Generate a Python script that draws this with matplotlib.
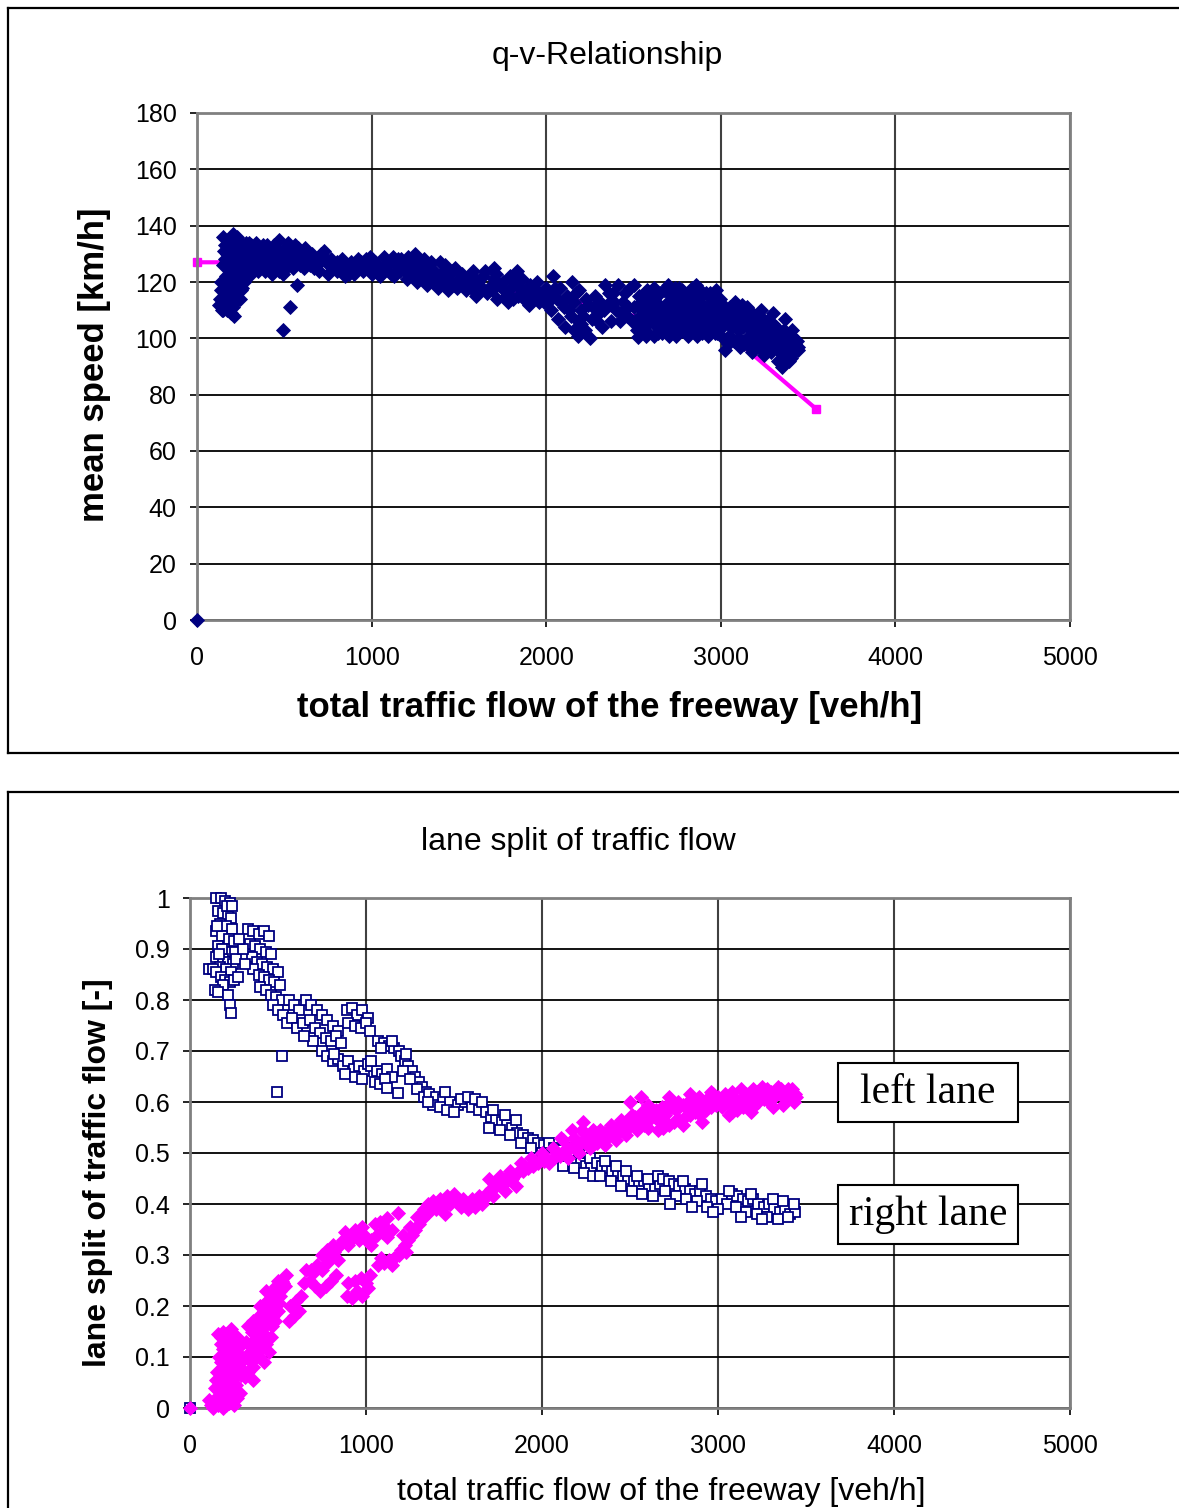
import matplotlib.pyplot as plt
from matplotlib.lines import Line2D
from matplotlib.patches import Rectangle

plt.rcParams['font.family'] = ['Liberation Sans', 'DejaVu Sans']

W, H = 1179, 1508

# ---------- q-v relationship (measured points) ----------
qv_points = [
    (0, 0),
    # low flow cluster
    (150, 136), (160, 133), (170, 130), (180, 128), (190, 126), (200, 124), (210, 122), (150, 126),
    (165, 122), (175, 119), (185, 116), (195, 113), (205, 111), (140, 117), (130, 114), (125, 112),
    (145, 110), (170, 110), (190, 112), (215, 115), (230, 118), (240, 121), (250, 124), (260, 127),
    (220, 125), (230, 128), (240, 131), (250, 134), (260, 132), (270, 130), (280, 127), (290, 124),
    (300, 122), (270, 120), (250, 117), (235, 114), (220, 120), (200, 129), (185, 132), (175, 135),
    (160, 128), (210, 133), (225, 134), (200, 116), (180, 122), (155, 113), (140, 120), (280, 134),
    (300, 129), (310, 133),
    (155, 131), (165, 127), (175, 125), (185, 121), (195, 118), (205, 119), (215, 127), (225, 121),
    (235, 125), (245, 128), (255, 129), (265, 124), (275, 133), (285, 130), (295, 126), (205, 137),
    (230, 136), (170, 116), (160, 112), (180, 114), (210, 108), (195, 109), (150, 110), (245, 114),
    (260, 118), (280, 122), (300, 134), (320, 128), (340, 129), (350, 130), (380, 133), (400, 131),
    (420, 128), (450, 128), (490, 131), (510, 132), (540, 127), (560, 133), (600, 127), (620, 132),
    (640, 130),
    (320, 131), (340, 134), (360, 132), (380, 129), (400, 127), (420, 130), (440, 133), (460, 131),
    (480, 128), (500, 126), (520, 129), (540, 131), (560, 130), (580, 128), (600, 130), (620, 129),
    (640, 127), (330, 126), (350, 124), (370, 126), (390, 124), (410, 125), (430, 123), (450, 126),
    (470, 124), (490, 123), (510, 125), (530, 127), (550, 125), (570, 127), (590, 126), (610, 125),
    (630, 128), (650, 126), (360, 128), (440, 129), (520, 134), (470, 135), (400, 133), (580, 132),
    (490, 103), (530, 111), (573, 119),
    (660, 130), (680, 128), (700, 127), (720, 129), (740, 127), (760, 126), (780, 125), (800, 127),
    (820, 126), (840, 124), (860, 125), (880, 127), (900, 126), (920, 128), (940, 127), (960, 125),
    (980, 126), (1000, 128), (1020, 127), (1040, 125), (1060, 124), (1080, 126), (1100, 127),
    (700, 124), (750, 123), (800, 124), (850, 122), (900, 123), (950, 124), (1000, 123), (1050, 122),
    (670, 125), (730, 131), (990, 129),
    (690, 126), (710, 130), (770, 128), (830, 128), (870, 123), (930, 125), (970, 128), (1030, 126),
    (1070, 129), (1110, 123), (1140, 126), (1170, 128), (1190, 124), (1220, 125), (1280, 127),
    (1310, 123), (1340, 127), (1370, 122), (1430, 121), (1460, 124), (1490, 118),
    (1120, 129), (1150, 128), (1180, 126), (1210, 129), (1240, 127), (1270, 125), (1300, 128),
    (1330, 126), (1360, 124), (1390, 127), (1420, 126), (1450, 123), (1480, 125), (1130, 122),
    (1160, 124), (1200, 121), (1230, 123), (1260, 120), (1290, 122), (1320, 119), (1350, 121),
    (1380, 118), (1410, 120), (1440, 117), (1470, 119), (1500, 121), (1250, 130), (1400, 123),
    (1520, 123), (1550, 121), (1580, 124), (1610, 120), (1640, 122), (1670, 118), (1700, 121),
    (1730, 119), (1760, 117), (1790, 122), (1820, 120), (1850, 118), (1880, 116), (1910, 119),
    (1940, 117), (1970, 115), (2000, 118), (1540, 117), (1600, 115), (1660, 116), (1720, 114),
    (1780, 113), (1840, 115), (1900, 112), (1960, 113), (1830, 124), (1700, 125),
    (1530, 119), (1570, 118), (1590, 121), (1630, 118), (1650, 124), (1690, 117), (1710, 123),
    (1750, 120), (1770, 115), (1800, 118), (1810, 114), (1860, 121), (1870, 114), (1920, 115),
    (1950, 120), (1990, 113), (1980, 116),
    (2020, 116), (2040, 122), (2060, 114), (2080, 118), (2100, 111), (2120, 115), (2140, 108),
    (2150, 120), (2160, 113), (2180, 106), (2182, 101), (2200, 110), (2220, 103), (2240, 112),
    (2260, 107), (2280, 115), (2300, 109), (2320, 104), (2337, 119), (2350, 112), (2030, 110),
    (2070, 107), (2110, 104), (2190, 117), (2250, 100),
    (2010, 113), (2050, 118), (2090, 113), (2130, 110), (2170, 116), (2210, 108), (2230, 114),
    (2270, 111), (2290, 106), (2310, 113), (2330, 110), (2360, 116), (2390, 113), (2430, 109),
    (2450, 116), (2470, 111), (2490, 106), (2200, 105), (2160, 103),
    (2380, 116), (2400, 110), (2420, 106), (2440, 113), (2460, 108), (2480, 118), (2370, 106),
    (2500, 119), (2410, 119),
    (2520, 103), (2540, 108), (2560, 112), (2580, 105), (2600, 110), (2620, 114), (2640, 102),
    (2660, 107), (2680, 111), (2700, 116), (2720, 104), (2740, 109), (2760, 113), (2780, 117),
    (2800, 106), (2820, 110), (2840, 103), (2860, 114), (2880, 108), (2900, 112), (2920, 105),
    (2940, 110), (2960, 114), (2980, 102), (3000, 108), (2530, 115), (2570, 101), (2610, 106),
    (2650, 116), (2690, 103), (2730, 112), (2770, 106), (2810, 101), (2850, 109), (2890, 104),
    (2930, 115), (2970, 107), (2550, 110), (2590, 114), (2630, 108), (2670, 104), (2710, 108),
    (2750, 103), (2790, 110), (2830, 114), (2870, 111), (2910, 107), (2950, 104), (2990, 111),
    (2700, 119), (2760, 118), (2820, 116), (2880, 117), (2940, 116),
    (2505, 111), (2515, 106), (2525, 100.5), (2535, 104), (2545, 113), (2555, 106), (2565, 116),
    (2575, 109), (2585, 102), (2595, 107), (2605, 117), (2615, 101), (2625, 111), (2635, 104),
    (2645, 112), (2655, 109), (2665, 102), (2675, 117), (2685, 106), (2695, 113), (2705, 101),
    (2715, 111), (2725, 106), (2735, 115), (2745, 101), (2755, 110), (2765, 107), (2775, 113),
    (2785, 103), (2795, 115), (2805, 112), (2815, 107), (2825, 104), (2835, 118), (2845, 111),
    (2855, 105), (2865, 101), (2875, 113), (2885, 115), (2895, 102), (2905, 110), (2915, 116),
    (2925, 101), (2935, 112), (2945, 107), (2955, 110), (2965, 102), (2975, 117), (2985, 106),
    (2995, 114), (2620, 118), (2580, 117), (2740, 118), (2860, 119),
    (3020, 110), (3040, 105), (3060, 100), (3080, 108), (3100, 103), (3120, 112), (3140, 106),
    (3160, 101), (3180, 109), (3200, 104), (3220, 99), (3240, 107), (3260, 102), (3280, 97),
    (3300, 105), (3320, 100), (3340, 95), (3360, 103), (3380, 98), (3400, 93), (3420, 100),
    (3430, 96), (3040, 98), (3110, 97), (3180, 95), (3250, 94), (3330, 92), (3370, 107),
    (3300, 109), (3230, 110), (3150, 111), (3080, 113), (3010, 100), (3440, 97), (3410, 103),
    (3350, 90),
    (3005, 104), (3015, 112), (3025, 96), (3035, 108), (3045, 101), (3055, 111), (3065, 104),
    (3075, 99), (3085, 110), (3095, 106), (3105, 100), (3115, 108), (3125, 104), (3135, 98),
    (3145, 109), (3155, 104), (3165, 97), (3175, 106), (3185, 101), (3195, 108), (3205, 98),
    (3215, 105), (3225, 102), (3235, 96), (3245, 104), (3255, 99), (3265, 106), (3275, 101),
    (3285, 95), (3295, 102), (3305, 98), (3315, 104), (3325, 96), (3335, 101), (3345, 99),
    (3355, 94), (3365, 100), (3375, 96), (3385, 101), (3395, 97), (3405, 99), (3415, 95),
    (3425, 98), (3435, 99), (3445, 96), (3390, 92), (3360, 96),
]
qv_flow = [p[0] for p in qv_points]
qv_speed = [p[1] for p in qv_points]

# fitted q-v curve
fit_flow = [0, 773, 2211, 3099, 3545]
fit_speed = [127, 127, 112.5, 98.7, 75]

# ---------- lane split ----------
right_points = [
    (0, 0),
    (150, 1.0), (175, 1.0), (200, 0.995), (225, 0.99), (160, 0.975), (190, 0.97), (215, 0.965),
    (235, 0.96), (170, 0.95), (205, 0.945), (240, 0.94), (145, 0.935), (180, 0.925), (220, 0.92),
    (250, 0.915), (160, 0.905), (195, 0.9), (230, 0.895), (150, 0.885), (185, 0.88), (215, 0.875),
    (245, 0.87), (170, 0.865), (205, 0.86), (235, 0.855), (110, 0.86), (130, 0.86), (150, 0.855),
    (175, 0.845), (200, 0.84), (225, 0.835), (250, 0.84), (270, 0.845), (190, 0.83), (140, 0.82),
    (160, 0.815), (215, 0.81), (225, 0.79), (235, 0.775), (180, 0.9), (165, 0.89), (255, 0.895),
    (155, 0.945), (210, 0.985), (260, 0.88), (240, 0.985),
    (330, 0.94), (360, 0.935), (390, 0.93), (420, 0.935), (450, 0.925), (340, 0.91), (370, 0.905),
    (400, 0.9), (430, 0.895), (460, 0.89), (350, 0.885), (380, 0.875), (410, 0.87), (440, 0.865),
    (470, 0.86), (500, 0.855), (360, 0.86), (390, 0.85), (420, 0.845), (450, 0.84), (480, 0.835),
    (510, 0.83), (400, 0.825), (430, 0.82), (460, 0.81), (490, 0.805), (520, 0.8), (300, 0.9),
    (310, 0.87), (280, 0.92),
    (470, 0.79), (500, 0.78), (530, 0.77), (560, 0.8), (590, 0.79), (620, 0.78), (550, 0.755),
    (580, 0.765), (610, 0.745), (640, 0.755), (660, 0.8), (690, 0.79), (720, 0.78), (750, 0.77),
    (780, 0.76), (810, 0.75), (840, 0.74), (680, 0.76), (710, 0.745), (740, 0.735), (770, 0.725),
    (800, 0.72), (830, 0.73), (860, 0.715), (700, 0.72), (650, 0.73),
    (520, 0.69), (495, 0.62),
    (890, 0.78), (920, 0.785), (950, 0.77), (980, 0.78), (1010, 0.765), (900, 0.755), (940, 0.75),
    (970, 0.745), (1000, 0.755), (1025, 0.74),
    (750, 0.7), (780, 0.69), (810, 0.68), (840, 0.685), (870, 0.67), (900, 0.68), (930, 0.665),
    (960, 0.67), (990, 0.66), (1010, 0.675), (880, 0.655), (940, 0.65), (980, 0.645), (820, 0.695),
    (1030, 0.67), (1060, 0.66), (1090, 0.655), (1120, 0.665), (1150, 0.65), (1050, 0.64),
    (1080, 0.635), (1110, 0.645), (1180, 0.618), (1120, 0.627), (1030, 0.68),
    (1070, 0.72), (1100, 0.715), (1130, 0.71), (1160, 0.705), (1190, 0.7), (1085, 0.705), (1145, 0.72),
    (1200, 0.69), (1220, 0.68), (1240, 0.67), (1260, 0.66), (1280, 0.65), (1300, 0.64), (1320, 0.63),
    (1340, 0.62), (1210, 0.66), (1250, 0.645), (1290, 0.625), (1330, 0.61), (1230, 0.695),
    (1360, 0.615), (1400, 0.61), (1440, 0.605), (1480, 0.6), (1520, 0.595), (1560, 0.6), (1600, 0.59),
    (1640, 0.585), (1380, 0.595), (1420, 0.59), (1460, 0.585), (1500, 0.58), (1540, 0.605),
    (1580, 0.61), (1620, 0.605), (1660, 0.6), (1350, 0.6), (1450, 0.62),
    (1680, 0.58), (1710, 0.57), (1740, 0.565), (1770, 0.56), (1800, 0.555), (1830, 0.55), (1860, 0.54),
    (1890, 0.535), (1920, 0.53), (1950, 0.525), (1980, 0.52), (2010, 0.515), (1700, 0.55),
    (1760, 0.545), (1820, 0.535), (1880, 0.52), (1940, 0.51), (2000, 0.5), (1720, 0.585),
    (1790, 0.575), (1850, 0.565),
    (2040, 0.52), (2070, 0.51), (2100, 0.505), (2130, 0.495), (2160, 0.49), (2190, 0.485),
    (2220, 0.48), (2250, 0.475), (2280, 0.47), (2060, 0.49), (2120, 0.475), (2180, 0.47),
    (2240, 0.46), (2290, 0.455), (2150, 0.51), (2210, 0.5), (2270, 0.49),
    (2310, 0.48), (2340, 0.475), (2370, 0.47), (2400, 0.465), (2430, 0.46), (2460, 0.455),
    (2490, 0.45), (2520, 0.445), (2550, 0.44), (2580, 0.445), (2610, 0.435), (2640, 0.43),
    (2670, 0.44), (2330, 0.455), (2390, 0.445), (2450, 0.435), (2510, 0.425), (2570, 0.42),
    (2630, 0.415), (2360, 0.485), (2420, 0.475), (2480, 0.465), (2540, 0.455), (2600, 0.45),
    (2660, 0.455),
    (2690, 0.45), (2720, 0.445), (2750, 0.44), (2780, 0.435), (2810, 0.43), (2840, 0.425),
    (2870, 0.42), (2900, 0.425), (2930, 0.415), (2960, 0.41), (2990, 0.405), (3020, 0.41),
    (3050, 0.4), (2700, 0.425), (2760, 0.415), (2820, 0.41), (2880, 0.405), (2940, 0.395),
    (3000, 0.39), (2730, 0.4), (2850, 0.395), (2970, 0.385), (2800, 0.445), (2910, 0.44),
    (3080, 0.42), (3110, 0.415), (3140, 0.41), (3170, 0.405), (3200, 0.41), (3230, 0.4),
    (3260, 0.395), (3290, 0.4), (3320, 0.39), (3350, 0.385), (3380, 0.39), (3410, 0.38),
    (3440, 0.385), (3100, 0.395), (3160, 0.385), (3220, 0.38), (3280, 0.375), (3340, 0.37),
    (3400, 0.375), (3130, 0.375), (3250, 0.37), (3310, 0.41), (3370, 0.405), (3430, 0.4),
    (3190, 0.42), (3060, 0.425),
]
right_flow = [p[0] for p in right_points]
right_share = [p[1] for p in right_points]

left_points = [
    (0, 0),
    (130, 0.0), (160, 0.005), (190, 0.0), (220, 0.01), (250, 0.005), (150, 0.02), (180, 0.03),
    (210, 0.035), (240, 0.025), (170, 0.05), (200, 0.055), (230, 0.06), (260, 0.045), (155, 0.07),
    (185, 0.08), (215, 0.085), (245, 0.075), (165, 0.1), (195, 0.105), (225, 0.11), (255, 0.1),
    (175, 0.125), (205, 0.13), (235, 0.12), (160, 0.145), (190, 0.15), (220, 0.14), (250, 0.135),
    (280, 0.12), (270, 0.09), (300, 0.095), (290, 0.065), (110, 0.015), (200, 0.02), (140, 0.04),
    (120, 0.005), (145, 0.01), (175, 0.015), (205, 0.005), (235, 0.015), (265, 0.02), (285, 0.03),
    (165, 0.035), (195, 0.04), (225, 0.045), (255, 0.06), (285, 0.08), (150, 0.055), (180, 0.065),
    (210, 0.07), (240, 0.09), (175, 0.09), (205, 0.095), (235, 0.1), (265, 0.11), (190, 0.115),
    (220, 0.125), (250, 0.12), (175, 0.14), (205, 0.145), (235, 0.155), (265, 0.14),
    (330, 0.07), (360, 0.08), (390, 0.1), (420, 0.09), (450, 0.11), (340, 0.11), (370, 0.12),
    (400, 0.13), (430, 0.125), (460, 0.14), (350, 0.15), (380, 0.16), (410, 0.155), (440, 0.17),
    (470, 0.18), (500, 0.19), (390, 0.18), (420, 0.19), (450, 0.2), (480, 0.21), (510, 0.22),
    (430, 0.23), (460, 0.215), (490, 0.24), (520, 0.25), (320, 0.13), (310, 0.06), (360, 0.055),
    (325, 0.1), (345, 0.09), (375, 0.1), (405, 0.115), (435, 0.14), (465, 0.16), (485, 0.17),
    (355, 0.13), (385, 0.14), (415, 0.17), (445, 0.185), (475, 0.195), (505, 0.205), (400, 0.2),
    (440, 0.21), (470, 0.23), (500, 0.25), (530, 0.245), (360, 0.17), (330, 0.16),
    (480, 0.2), (510, 0.23), (540, 0.24), (570, 0.2), (600, 0.21), (630, 0.22), (560, 0.17),
    (590, 0.18), (620, 0.19), (650, 0.245), (680, 0.25), (710, 0.24), (740, 0.23), (770, 0.24),
    (800, 0.25), (830, 0.26), (690, 0.27), (720, 0.28), (750, 0.27), (780, 0.285), (810, 0.3),
    (840, 0.29), (700, 0.265), (660, 0.27), (545, 0.26),
    (750, 0.3), (780, 0.31), (810, 0.32), (840, 0.315), (870, 0.33), (900, 0.32), (930, 0.335),
    (960, 0.33), (990, 0.34), (1010, 0.325), (880, 0.345), (940, 0.35), (980, 0.355), (820, 0.305),
    (890, 0.22), (920, 0.215), (950, 0.23), (980, 0.22), (1010, 0.235), (900, 0.245), (940, 0.25),
    (970, 0.255), (1000, 0.245), (1025, 0.26),
    (1030, 0.33), (1060, 0.34), (1090, 0.345), (1120, 0.335), (1150, 0.35), (1050, 0.36),
    (1080, 0.365), (1110, 0.355), (1180, 0.382), (1120, 0.373), (1030, 0.32),
    (1070, 0.28), (1100, 0.285), (1130, 0.29), (1160, 0.295), (1190, 0.3), (1085, 0.295), (1145, 0.28),
    (1200, 0.31), (1220, 0.32), (1240, 0.33), (1260, 0.34), (1280, 0.35), (1300, 0.36), (1320, 0.37),
    (1340, 0.38), (1210, 0.34), (1250, 0.355), (1290, 0.375), (1330, 0.39), (1230, 0.305),
    (1360, 0.385), (1400, 0.39), (1440, 0.395), (1480, 0.4), (1520, 0.405), (1560, 0.4), (1600, 0.41),
    (1640, 0.415), (1380, 0.405), (1420, 0.41), (1460, 0.415), (1500, 0.42), (1540, 0.395),
    (1580, 0.39), (1620, 0.395), (1660, 0.4), (1350, 0.4), (1450, 0.38),
    (1310, 0.38), (1370, 0.395), (1430, 0.4), (1490, 0.41), (1550, 0.41), (1610, 0.4), (1670, 0.41),
    (1730, 0.44), (1790, 0.45), (1840, 0.455), (1900, 0.475), (1960, 0.485), (2020, 0.49),
    (2080, 0.5), (2140, 0.51), (2200, 0.52), (2260, 0.53), (2110, 0.53), (2170, 0.545), (2230, 0.545),
    (1680, 0.42), (1710, 0.43), (1740, 0.435), (1770, 0.44), (1800, 0.445), (1830, 0.45), (1860, 0.46),
    (1890, 0.465), (1920, 0.47), (1950, 0.475), (1980, 0.48), (2010, 0.485), (1700, 0.45),
    (1760, 0.455), (1820, 0.465), (1880, 0.48), (1940, 0.49), (2000, 0.5), (1720, 0.415),
    (1790, 0.425), (1850, 0.435),
    (2040, 0.48), (2070, 0.49), (2100, 0.495), (2130, 0.505), (2160, 0.51), (2190, 0.515),
    (2220, 0.52), (2250, 0.525), (2280, 0.53), (2060, 0.51), (2120, 0.525), (2180, 0.53),
    (2240, 0.54), (2290, 0.545), (2150, 0.49), (2210, 0.5), (2270, 0.51), (2233, 0.56),
    (2310, 0.52), (2340, 0.525), (2370, 0.53), (2400, 0.535), (2430, 0.54), (2460, 0.545),
    (2490, 0.55), (2520, 0.555), (2550, 0.56), (2580, 0.555), (2610, 0.565), (2640, 0.57),
    (2670, 0.56), (2330, 0.545), (2390, 0.555), (2450, 0.565), (2510, 0.575), (2570, 0.58),
    (2630, 0.585), (2360, 0.515), (2420, 0.525), (2480, 0.535), (2540, 0.545), (2600, 0.55),
    (2660, 0.545), (2500, 0.6), (2560, 0.61),
    (2320, 0.535), (2350, 0.54), (2380, 0.545), (2410, 0.55), (2440, 0.555), (2470, 0.56),
    (2500, 0.565), (2530, 0.57), (2560, 0.575), (2590, 0.57), (2620, 0.58), (2650, 0.585),
    (2680, 0.59), (2710, 0.585), (2740, 0.59), (2770, 0.6), (2800, 0.595), (2830, 0.6), (2860, 0.59),
    (2890, 0.61), (2920, 0.6), (2950, 0.595), (2980, 0.605), (3010, 0.6), (3040, 0.615), (3070, 0.61),
    (3100, 0.59), (3120, 0.6), (3150, 0.605), (3180, 0.61), (3210, 0.605), (3240, 0.615),
    (3270, 0.61), (3300, 0.62), (3330, 0.615), (3360, 0.625), (3390, 0.615), (3420, 0.625),
    (3445, 0.61), (3200, 0.625), (3080, 0.62), (2960, 0.62), (2840, 0.615), (2720, 0.61), (2600, 0.595),
    (2690, 0.55), (2720, 0.555), (2750, 0.56), (2780, 0.565), (2810, 0.57), (2840, 0.575),
    (2870, 0.58), (2900, 0.575), (2930, 0.585), (2960, 0.59), (2990, 0.595), (3020, 0.59),
    (3050, 0.6), (2700, 0.575), (2760, 0.585), (2820, 0.59), (2880, 0.595), (2940, 0.605),
    (3000, 0.61), (2730, 0.6), (2850, 0.605), (2970, 0.615), (2800, 0.555), (2910, 0.56),
    (3080, 0.58), (3110, 0.585), (3140, 0.59), (3170, 0.595), (3200, 0.59), (3230, 0.6),
    (3260, 0.605), (3290, 0.6), (3320, 0.61), (3350, 0.615), (3380, 0.61), (3410, 0.62),
    (3440, 0.615), (3100, 0.605), (3160, 0.615), (3220, 0.62), (3280, 0.625), (3340, 0.63),
    (3400, 0.625), (3130, 0.625), (3250, 0.63), (3310, 0.59), (3370, 0.595), (3430, 0.6),
    (3190, 0.58), (3060, 0.575),
]
left_flow = [p[0] for p in left_points]
left_share = [p[1] for p in left_points]

NAVY = '#000080'
MAGENTA = '#FF00FF'

fig = plt.figure(figsize=(W / 100, H / 100), dpi=100, facecolor='white')


def style_axes(ax):
    ax.set_facecolor('white')
    ax.grid(True, axis='y', color='black', linewidth=1.3)
    ax.grid(True, axis='x', color='#404040', linewidth=1.5)
    ax.set_axisbelow(True)
    for sp in ax.spines.values():
        sp.set_color('#808080')
        sp.set_linewidth(2)
    ax.tick_params(axis='both', direction='out', length=5, width=1.2, color='black', labelsize=18)
    ax.tick_params(axis='x', pad=14)
    ax.tick_params(axis='y', pad=9.5)


# ---- top chart ----
ax1 = fig.add_axes([197 / W, 1 - 620 / H, 873 / W, 507 / H])
style_axes(ax1)
ax1.plot(fit_flow, fit_speed, color=MAGENTA, linewidth=3, marker='s', markersize=5.5,
         zorder=2, clip_on=False)
ax1.plot(qv_flow, qv_speed, linestyle='none', marker='D', markersize=6.8, color=NAVY,
         markeredgewidth=0.6, zorder=3, clip_on=False)
ax1.set_xlim(0, 5000)
ax1.set_ylim(0, 180)
ax1.set_xticks(range(0, 5001, 1000))
ax1.set_yticks(range(0, 181, 20))

fig.text(607 / W, 1 - 56 / H, 'q-v-Relationship', ha='center', va='center', fontsize=23)
fig.text(610 / W, 1 - 707 / H, 'total traffic flow of the freeway [veh/h]', ha='center',
         va='center', fontsize=25, fontweight='bold')
fig.text(95 / W, 1 - 365 / H, 'mean speed [km/h]', ha='center', va='center', fontsize=25,
         fontweight='bold', rotation=90)

# ---- bottom chart ----
ax2 = fig.add_axes([190 / W, 1 - 1408 / H, 880 / W, 510 / H])
style_axes(ax2)
ax2.plot(right_flow, right_share, linestyle='none', marker='s', markersize=6.8,
         markerfacecolor='white', markeredgecolor=NAVY, markeredgewidth=1.3, zorder=3, clip_on=False)
ax2.plot(left_flow, left_share, linestyle='none', marker='D', markersize=6.8, color=MAGENTA,
         markeredgewidth=0.6, zorder=4, clip_on=False)
ax2.set_xlim(0, 5000)
ax2.set_ylim(0, 1)
ax2.set_xticks(range(0, 5001, 1000))
ax2.set_yticks([i / 10 for i in range(11)])
ax2.set_yticklabels(['0', '0.1', '0.2', '0.3', '0.4', '0.5', '0.6', '0.7', '0.8', '0.9', '1'])

fig.text(578 / W, 1 - 842 / H, 'lane split of traffic flow', ha='center', va='center', fontsize=23)
fig.text(661 / W, 1 - 1492 / H, 'total traffic flow of the freeway [veh/h]', ha='center',
         va='center', fontsize=23)
fig.text(98 / W, 1 - 1173 / H, 'lane split of traffic flow [-]', ha='center', va='center',
         fontsize=23, fontweight='bold', rotation=90)

# lane annotation boxes
for label, y0, y1 in [('left lane', 1063, 1122), ('right lane', 1185, 1244)]:
    fig.add_artist(Rectangle((838 / W, 1 - y1 / H), 180 / W, (y1 - y0) / H,
                             transform=fig.transFigure, facecolor='white',
                             edgecolor='black', linewidth=1.5, zorder=5))
    fig.text(928 / W, 1 - (y0 + y1) / 2 / H, label, ha='center', va='center', fontsize=30,
             family=['Liberation Serif', 'DejaVu Serif'], zorder=6)

# chart frames
frame = dict(color='black', linewidth=1.6, transform=fig.transFigure)
fig.add_artist(Line2D([8 / W, 1.0], [1 - 8 / H, 1 - 8 / H], **frame))
fig.add_artist(Line2D([8 / W, 8 / W], [1 - 8 / H, 1 - 753 / H], **frame))
fig.add_artist(Line2D([8 / W, 1.0], [1 - 753 / H, 1 - 753 / H], **frame))
fig.add_artist(Line2D([8 / W, 1.0], [1 - 792 / H, 1 - 792 / H], **frame))
fig.add_artist(Line2D([8 / W, 8 / W], [1 - 792 / H, 0.0], **frame))

fig.savefig('out.png', dpi=100, facecolor='white')
